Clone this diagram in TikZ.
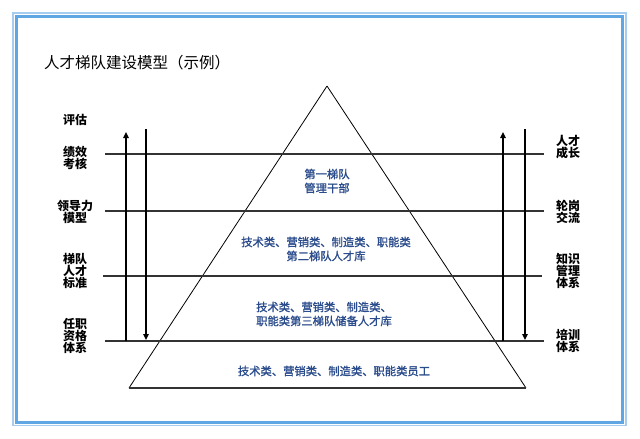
\documentclass[tikz,border=0pt]{standalone}
\usepackage{fontspec}
\setmainfont{Noto Sans CJK SC}
\newfontfamily\tierfont[FakeBold=1.3]{Noto Sans CJK SC}
\usetikzlibrary{arrows.meta}
\definecolor{frameout}{HTML}{A6CDF0}
\definecolor{framein}{HTML}{5FA6E3}
\definecolor{tierblue}{HTML}{2A4B8C}
\definecolor{linegray}{HTML}{333333}
\tikzset{
  sidelabel/.style={font=\fontsize{12}{12.3}\selectfont\bfseries, align=center, inner sep=0pt, text=black},
  tierlabel/.style={font=\fontsize{11.3}{14}\selectfont\tierfont, align=center, inner sep=0pt, text=tierblue},
  levelline/.style={draw=linegray, line width=1.1pt},
  flowarrow/.style={line width=1.8pt, -{Triangle[width=5.5pt,length=6pt]}},
  flowline/.style={line width=1.8pt},
}
\begin{document}
\begin{tikzpicture}[x=1pt,y=-1pt]
\useasboundingbox (0,0) rectangle (640,439);
\fill[white] (0,0) rectangle (640,439);
% frame
\draw[frameout, line width=1.2pt] (13,13) rectangle (626,425.5);
\draw[framein, line width=3pt] (16.8,16.8) rectangle (622.5,422.3);
% title
\node[anchor=west, inner sep=0pt, font=\fontsize{15.5}{16}\selectfont] (title) at (44,63) {人才梯队建设模型（示例）};
% triangle
\coordinate (apex) at (327,86);
\coordinate (bl) at (129,388);
\coordinate (br) at (526,388);
\draw[line width=0.8pt] (apex) -- (bl);
\draw[line width=0.8pt] (apex) -- (br);
\draw[draw=linegray, line width=1.2pt] (bl) -- (br);
% level lines
\coordinate (l1a) at (105,154); \coordinate (l1b) at (544,154);
\coordinate (l2a) at (105,211); \coordinate (l2b) at (544,211);
\coordinate (l3a) at (103,276); \coordinate (l3b) at (542,276);
\coordinate (l4a) at (105,341); \coordinate (l4b) at (544,341);
\draw[levelline] (l1a) -- (l1b);
\draw[levelline] (l2a) -- (l2b);
\draw[levelline] (l3a) -- (l3b);
\draw[levelline] (l4a) -- (l4b);
% arrows left
\coordinate (lua) at (126,341); \coordinate (lub) at (126,132);
\coordinate (lda) at (146,129); \coordinate (ldb) at (146,340);
\draw[flowarrow] (lua) -- (lub);
\draw[flowarrow] (lda) -- (ldb);
% arrows right
\coordinate (rua) at (503,341); \coordinate (rub) at (503,132);
\coordinate (rda) at (525,129); \coordinate (rdb) at (525,340);
\draw[flowarrow] (rua) -- (rub);
\draw[flowarrow] (rda) -- (rdb);
% left labels
\node[sidelabel] (pg) at (75,120) {评估};
\node[sidelabel] (jx) at (75,158) {绩效\\考核};
\node[sidelabel] (ldl) at (75,212) {领导力\\模型};
\node[sidelabel] (tdrc) at (75,271) {梯队\\人才\\标准};
\node[sidelabel] (rzzg) at (75,336) {任职\\资格\\体系};
% right labels
\node[sidelabel] (rccz) at (568,147) {人才\\成长};
\node[sidelabel] (lgjl) at (568,212) {轮岗\\交流};
\node[sidelabel] (zsgl) at (568,271) {知识\\管理\\体系};
\node[sidelabel] (pxtx) at (568,341) {培训\\体系};
% tier labels
\node[tierlabel] (t1) at (327,181) {第一梯队\\管理干部};
\node[tierlabel] (t2) at (326,249) {技术类、营销类、制造类、职能类\\第二梯队人才库};
\node[tierlabel] (t3) at (324,314) {技术类、营销类、制造类、\\职能类第三梯队储备人才库};
\node[tierlabel] (t4) at (334,371) {技术类、营销类、制造类、职能类员工};
\end{tikzpicture}
\end{document}
